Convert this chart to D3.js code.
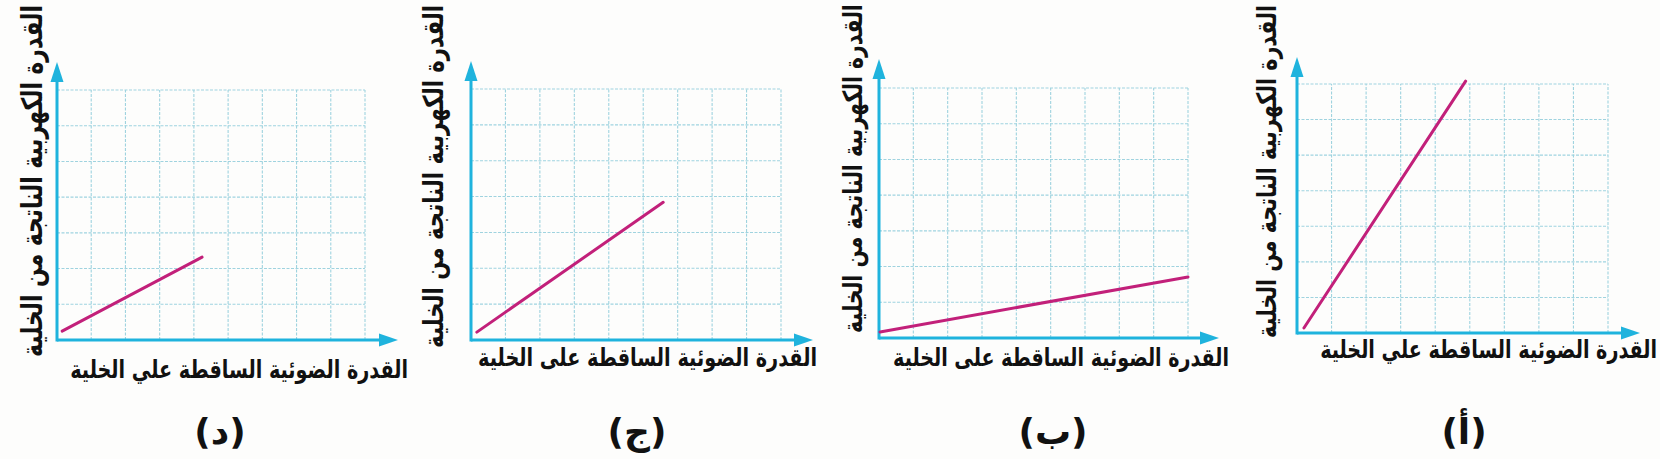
<!DOCTYPE html>
<html>
<head>
<meta charset="utf-8">
<script src="https://cdn.jsdelivr.net/npm/d3@7"></script>
<style>
  html, body { margin: 0; padding: 0; background: #fdfdfc; }
  svg { display: block; }
  text { font-family: "DejaVu Sans", sans-serif; font-weight: bold; fill: #111; }
</style>
</head>
<body>
<svg id="chart" width="1660" height="459"></svg>
<script>
// ---- data ----
const captions = ["(د)", "(ج)", "(ب)", "(أ)"];
const xLabels = [
  "القدرة الضوئية الساقطة علي الخلية",
  "القدرة الضوئية الساقطة على الخلية",
  "القدرة الضوئية الساقطة على الخلية",
  "القدرة الضوئية الساقطة علي الخلية"
];
const yLabel = "القدرة الكهربية الناتجة من الخلية";
const startX = [0.15, 0.17, 0.03, 0.20];
const startY = [0.25, 0.22, 0.17, 0.14];
const endX   = [4.24, 5.58, 9.00, 4.88];
const endY   = [2.32, 3.84, 1.71, 7.08];
const gridX = [1, 2, 3, 4, 5, 6, 7, 8, 9];
const gridY = [1, 2, 3, 4, 5, 6, 7];
const xMax = 9, yMax = 7;

// ---- layout (pixels) ----
const layout = [
  {ox: 57,   oy: 340, right: 365,  top: 90, arrowTop: 62, arrowTip: 398,  xlRight: 408,  xlBase: 378, xlW: 338, ylX: 32,   ylBottom: 357, ylLen: 352, capX: 220},
  {ox: 471,  oy: 340, right: 781,  top: 89, arrowTop: 61, arrowTip: 813,  xlRight: 817,  xlBase: 366, xlW: 339, ylX: 433,  ylBottom: 348, ylLen: 343, capX: 637},
  {ox: 879,  oy: 338, right: 1188, top: 88, arrowTop: 59, arrowTip: 1219, xlRight: 1229, xlBase: 366, xlW: 336, ylX: 853,  ylBottom: 333, ylLen: 329, capX: 1053},
  {ox: 1297, oy: 333, right: 1608, top: 84, arrowTop: 57, arrowTip: 1640, xlRight: 1657, xlBase: 358, xlW: 337, ylX: 1267, ylBottom: 338, ylLen: 333, capX: 1464}
];

const axisColor = "#1fb3dd";
const gridColor = "#9fd3df";
const lineColor = "#c2207a";
const textStretch = 1.3;

const svg = d3.select("#chart");
svg.append("rect").attr("width", 1660).attr("height", 459).attr("fill", "#fdfdfc");

function fitText(sel, target) {
  const base = 24;
  sel.attr("font-size", base);
  const len = sel.node().getComputedTextLength();
  sel.attr("font-size", base * target / len);
}

captions.forEach((cap, i) => {
  const L = layout[i];
  const x = d3.scaleLinear().domain([0, xMax]).range([L.ox, L.right]);
  const y = d3.scaleLinear().domain([0, yMax]).range([L.oy, L.top]);
  const g = svg.append("g");

  // grid
  g.selectAll(".vg").data(gridX).join("line")
    .attr("x1", d => x(d)).attr("x2", d => x(d))
    .attr("y1", y(0)).attr("y2", y(yMax))
    .attr("stroke", gridColor).attr("stroke-width", 1.1)
    .attr("stroke-dasharray", "3,1.5");
  g.selectAll(".hg").data(gridY).join("line")
    .attr("x1", x(0)).attr("x2", x(xMax))
    .attr("y1", d => y(d)).attr("y2", d => y(d))
    .attr("stroke", gridColor).attr("stroke-width", 1.1)
    .attr("stroke-dasharray", "3,1.5");

  // axes
  g.append("line").attr("x1", x(0)).attr("x2", L.arrowTip - 14)
    .attr("y1", y(0)).attr("y2", y(0))
    .attr("stroke", axisColor).attr("stroke-width", 3);
  g.append("line").attr("x1", x(0)).attr("x2", x(0))
    .attr("y1", y(0) + 1.5).attr("y2", L.arrowTop + 14)
    .attr("stroke", axisColor).attr("stroke-width", 3);
  g.append("path")
    .attr("d", `M${L.arrowTip},${y(0)} L${L.arrowTip - 19},${y(0) - 6.5} L${L.arrowTip - 19},${y(0) + 6.5} Z`)
    .attr("fill", axisColor);
  g.append("path")
    .attr("d", `M${x(0)},${L.arrowTop} L${x(0) - 6.5},${L.arrowTop + 20} L${x(0) + 6.5},${L.arrowTop + 20} Z`)
    .attr("fill", axisColor);

  // data line
  g.append("line")
    .attr("x1", x(startX[i])).attr("y1", y(startY[i]))
    .attr("x2", x(endX[i])).attr("y2", y(endY[i]))
    .attr("stroke", lineColor).attr("stroke-width", 3).attr("stroke-linecap", "round");

  // x label
  const xl = g.append("text").text(xLabels[i])
    .attr("transform", `translate(${L.xlRight},${L.xlBase}) scale(1,${textStretch})`)
    .attr("text-anchor", "end");
  fitText(xl, L.xlW);

  // y label
  const yl = g.append("text").text(yLabel)
    .attr("transform", `translate(${L.ylX},${L.ylBottom}) rotate(-90) scale(1,${textStretch})`)
    .attr("text-anchor", "start")
    .attr("dominant-baseline", "central");
  fitText(yl, L.ylLen);

  // caption
  g.append("text").text(cap)
    .attr("x", L.capX).attr("y", 431)
    .attr("text-anchor", "middle").attr("dominant-baseline", "central")
    .attr("font-size", 36);
});
</script>
</body>
</html>
